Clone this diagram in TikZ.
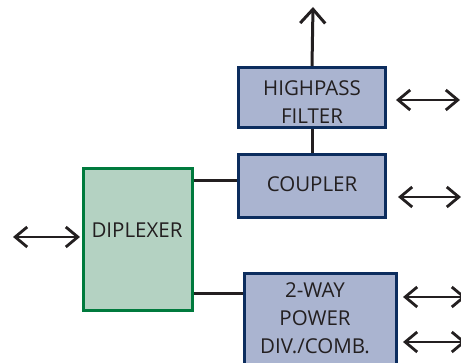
\documentclass[tikz,border=0pt]{standalone}
\usepackage{fontspec}
\setmainfont{Open Sans}
\usetikzlibrary{arrows.meta}
\definecolor{bluefill}{RGB}{170,180,208}
\definecolor{navy}{RGB}{12,45,94}
\definecolor{greenfill}{RGB}{180,210,194}
\definecolor{greenline}{RGB}{0,122,61}
\definecolor{ink}{RGB}{35,31,32}
\tikzset{
  bluebox/.style={draw=navy, fill=bluefill, line width=3pt, inner sep=0pt},
  greenbox/.style={draw=greenline, fill=greenfill, line width=3pt, inner sep=0pt},
  lbl/.style={text=ink, font=\fontsize{20.5}{26}\selectfont, inner sep=0pt, anchor=base},
  wire/.style={draw=ink, line width=3pt},
  barb/.style={Straight Barb[length=13pt,width=20pt,line width=2.8pt]},
  port/.style={draw=ink, line width=2.8pt, {Straight Barb[length=12pt,width=20pt]}-{Straight Barb[length=12pt,width=20pt]}},
  outport/.style={draw=ink, line width=3pt, -{Straight Barb[length=14pt,width=25pt]}}
}
\begin{document}
\begin{tikzpicture}[x=1pt,y=-1pt]
\useasboundingbox (0,0) rectangle (461,363);
\clip (0,0) rectangle (461,363);
% boxes
\node[bluebox, minimum width=147pt, minimum height=60pt] (hp) at (312,97.5) {};
\node[bluebox, minimum width=147pt, minimum height=63pt] (cp) at (312,186) {};
\node[greenbox, minimum width=109pt, minimum height=142pt] (dx) at (138,239.5) {};
\node[bluebox, minimum width=152pt, minimum height=91pt] (pw) at (320.5,319) {};
% labels
\node[lbl] (hpt1) at (312,96) {HIGHPASS};
\node[lbl] (hpt2) at (312,123.5) {FILTER};
\node[lbl] (cpt) at (312,192) {COUPLER};
\node[lbl] (dxt) at (137,238) {DIPLEXER};
\node[lbl] (pwt1) at (315,298) {2-WAY};
\node[lbl] (pwt2) at (315,326) {POWER};
\node[lbl] (pwt3) at (315,353.5) {DIV./COMB.};
% coordinates
\coordinate (top) at (313,7);
\coordinate (lin) at (13,237);
\coordinate (dxa) at (80,237);
\coordinate (hpa) at (396,100);
\coordinate (hpb) at (460,100);
\coordinate (cpa) at (398,197);
\coordinate (cpb) at (461,197);
\coordinate (pwa) at (403,297);
\coordinate (pwb) at (466,297);
\coordinate (pwc) at (403,342);
\coordinate (pwd) at (466,342);
% wires
\draw[wire] (hp.south) -- (cp.north);
\draw[wire] (dx.east |- 0,181) -- (cp.west |- 0,181);
\draw[wire] (dx.east |- 0,294) -- (pw.west |- 0,294);
\draw[outport] (hp.north) -- (top);
\draw[port] (lin) -- (dxa);
\draw[port] (hpa) -- (hpb);
\draw[port] (cpa) -- (cpb);
\draw[port] (pwa) -- (pwb);
\draw[port] (pwc) -- (pwd);
\end{tikzpicture}
\end{document}
